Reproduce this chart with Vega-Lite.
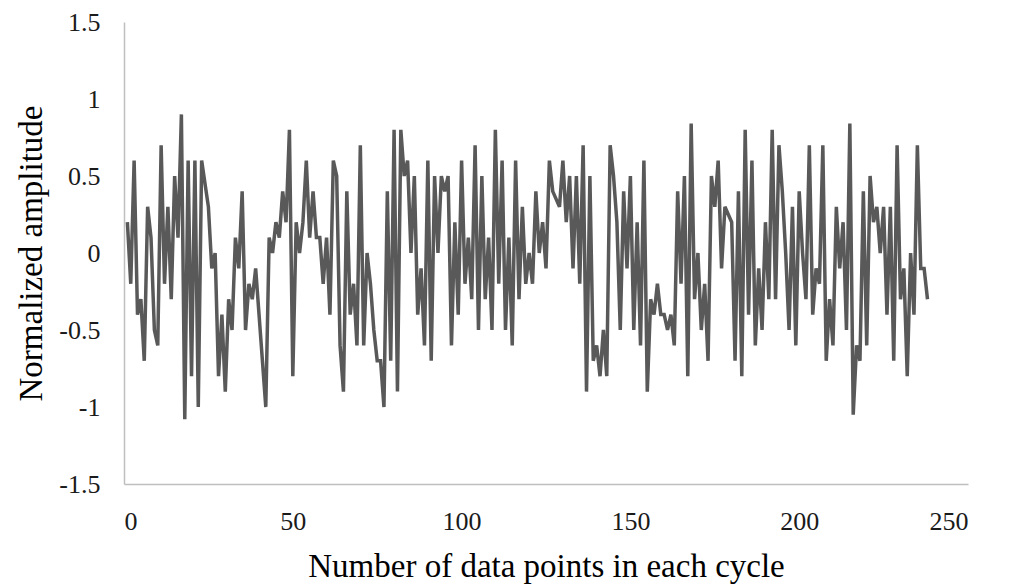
{
  "$schema": "https://vega.github.io/schema/vega-lite/v6.json",
  "width": 844,
  "height": 462,
  "padding": {"left": 124, "top": 22, "right": 41, "bottom": 104},
  "autosize": {"type": "none"},
  "background": "white",
  "config": {"view": {"stroke": null}},
  "data": {"values": [
{"x":1,"y":0.2},{"x":2,"y":-0.2},{"x":3,"y":0.6},{"x":4,"y":-0.4},{"x":5,"y":-0.3},{"x":6,"y":-0.7},{"x":7,"y":0.3},{"x":8,"y":0.1},{"x":9,"y":-0.5},{"x":10,"y":-0.6},
{"x":11,"y":0.7},{"x":12,"y":-0.2},{"x":13,"y":0.3},{"x":14,"y":-0.3},{"x":15,"y":0.5},{"x":16,"y":0.1},{"x":17,"y":0.9},{"x":18,"y":-1.08},{"x":19,"y":0.6},{"x":20,"y":-0.8},
{"x":21,"y":0.6},{"x":22,"y":-1.0},{"x":23,"y":0.6},{"x":24,"y":0.45},{"x":25,"y":0.3},{"x":26,"y":-0.1},{"x":27,"y":0.0},{"x":28,"y":-0.8},{"x":29,"y":-0.4},{"x":30,"y":-0.9},
{"x":31,"y":-0.3},{"x":32,"y":-0.5},{"x":33,"y":0.1},{"x":34,"y":-0.1},{"x":35,"y":0.4},{"x":36,"y":-0.5},{"x":37,"y":-0.2},{"x":38,"y":-0.3},{"x":39,"y":-0.1},{"x":40,"y":-0.4},
{"x":41,"y":-0.7},{"x":42,"y":-1.0},{"x":43,"y":0.1},{"x":44,"y":0.0},{"x":45,"y":0.2},{"x":46,"y":0.1},{"x":47,"y":0.4},{"x":48,"y":0.2},{"x":49,"y":0.8},{"x":50,"y":-0.8},
{"x":51,"y":0.2},{"x":52,"y":0.0},{"x":53,"y":0.2},{"x":54,"y":0.6},{"x":55,"y":0.1},{"x":56,"y":0.4},{"x":57,"y":0.1},{"x":58,"y":0.1},{"x":59,"y":-0.2},{"x":60,"y":0.1},
{"x":61,"y":-0.4},{"x":62,"y":0.6},{"x":63,"y":0.5},{"x":64,"y":-0.6},{"x":65,"y":-0.9},{"x":66,"y":0.4},{"x":67,"y":-0.4},{"x":68,"y":-0.2},{"x":69,"y":-0.6},{"x":70,"y":0.7},
{"x":71,"y":-0.6},{"x":72,"y":0.0},{"x":73,"y":-0.2},{"x":74,"y":-0.5},{"x":75,"y":-0.7},{"x":76,"y":-0.7},{"x":77,"y":-1.0},{"x":78,"y":0.4},{"x":79,"y":-0.7},{"x":80,"y":0.8},
{"x":81,"y":-0.9},{"x":82,"y":0.8},{"x":83,"y":0.5},{"x":84,"y":0.6},{"x":85,"y":0.0},{"x":86,"y":0.5},{"x":87,"y":-0.4},{"x":88,"y":-0.1},{"x":89,"y":-0.6},{"x":90,"y":0.6},
{"x":91,"y":-0.7},{"x":92,"y":0.5},{"x":93,"y":0.0},{"x":94,"y":0.5},{"x":95,"y":0.4},{"x":96,"y":0.5},{"x":97,"y":-0.6},{"x":98,"y":0.2},{"x":99,"y":-0.4},{"x":100,"y":0.6},
{"x":101,"y":-0.2},{"x":102,"y":0.1},{"x":103,"y":-0.3},{"x":104,"y":0.7},{"x":105,"y":-0.5},{"x":106,"y":0.5},{"x":107,"y":-0.3},{"x":108,"y":0.1},{"x":109,"y":-0.5},{"x":110,"y":0.8},
{"x":111,"y":-0.2},{"x":112,"y":0.6},{"x":113,"y":-0.5},{"x":114,"y":0.1},{"x":115,"y":-0.6},{"x":116,"y":0.6},{"x":117,"y":-0.3},{"x":118,"y":0.3},{"x":119,"y":-0.2},{"x":120,"y":0.0},
{"x":121,"y":-0.2},{"x":122,"y":0.4},{"x":123,"y":0.0},{"x":124,"y":0.2},{"x":125,"y":-0.1},{"x":126,"y":0.6},{"x":127,"y":0.4},{"x":128,"y":0.35},{"x":129,"y":0.3},{"x":130,"y":0.6},
{"x":131,"y":0.2},{"x":132,"y":0.5},{"x":133,"y":-0.1},{"x":134,"y":0.5},{"x":135,"y":-0.2},{"x":136,"y":0.7},{"x":137,"y":-0.9},{"x":138,"y":0.5},{"x":139,"y":-0.7},{"x":140,"y":-0.6},
{"x":141,"y":-0.8},{"x":142,"y":-0.5},{"x":143,"y":-0.8},{"x":144,"y":0.7},{"x":145,"y":0.5},{"x":146,"y":0.2},{"x":147,"y":-0.5},{"x":148,"y":0.4},{"x":149,"y":-0.1},{"x":150,"y":0.5},
{"x":151,"y":-0.5},{"x":152,"y":0.2},{"x":153,"y":-0.6},{"x":154,"y":0.6},{"x":155,"y":-0.9},{"x":156,"y":-0.3},{"x":157,"y":-0.4},{"x":158,"y":-0.2},{"x":159,"y":-0.4},{"x":160,"y":-0.4},
{"x":161,"y":-0.5},{"x":162,"y":-0.4},{"x":163,"y":-0.6},{"x":164,"y":0.4},{"x":165,"y":-0.2},{"x":166,"y":0.5},{"x":167,"y":-0.8},{"x":168,"y":0.84},{"x":169,"y":-0.3},{"x":170,"y":0.0},
{"x":171,"y":-0.5},{"x":172,"y":-0.2},{"x":173,"y":-0.7},{"x":174,"y":0.5},{"x":175,"y":0.3},{"x":176,"y":0.6},{"x":177,"y":-0.1},{"x":178,"y":0.3},{"x":179,"y":0.25},{"x":180,"y":0.2},
{"x":181,"y":-0.7},{"x":182,"y":0.4},{"x":183,"y":-0.8},{"x":184,"y":0.8},{"x":185,"y":-0.4},{"x":186,"y":0.6},{"x":187,"y":-0.6},{"x":188,"y":-0.1},{"x":189,"y":-0.5},{"x":190,"y":0.2},
{"x":191,"y":-0.3},{"x":192,"y":0.8},{"x":193,"y":-0.3},{"x":194,"y":0.7},{"x":195,"y":0.4},{"x":196,"y":0.0},{"x":197,"y":-0.5},{"x":198,"y":0.3},{"x":199,"y":-0.6},{"x":200,"y":0.4},
{"x":201,"y":0.0},{"x":202,"y":-0.3},{"x":203,"y":0.7},{"x":204,"y":-0.4},{"x":205,"y":-0.1},{"x":206,"y":-0.2},{"x":207,"y":0.7},{"x":208,"y":-0.7},{"x":209,"y":-0.3},{"x":210,"y":-0.6},
{"x":211,"y":0.3},{"x":212,"y":-0.1},{"x":213,"y":0.2},{"x":214,"y":-0.5},{"x":215,"y":0.84},{"x":216,"y":-1.05},{"x":217,"y":-0.6},{"x":218,"y":-0.7},{"x":219,"y":0.4},{"x":220,"y":-0.6},
{"x":221,"y":0.5},{"x":222,"y":0.2},{"x":223,"y":0.3},{"x":224,"y":0.0},{"x":225,"y":0.3},{"x":226,"y":-0.4},{"x":227,"y":0.3},{"x":228,"y":-0.7},{"x":229,"y":0.7},{"x":230,"y":-0.3},
{"x":231,"y":-0.1},{"x":232,"y":-0.8},{"x":233,"y":0.0},{"x":234,"y":-0.4},{"x":235,"y":0.7},{"x":236,"y":-0.1},{"x":237,"y":-0.1},{"x":238,"y":-0.3}
  ]},
  "mark": {"type": "line", "color": "#595959", "strokeWidth": 3.5, "strokeJoin": "miter", "strokeMiterLimit": 2},
  "encoding": {
    "x": {"field": "x", "type": "quantitative",
      "scale": {"domain": [0, 250], "nice": false, "zero": false},
      "axis": {"values": [0, 50, 100, 150, 200, 250], "title": "Number of data points in each cycle",
        "labelExpr": "'' + datum.value",
        "grid": false, "ticks": false, "domainColor": "#bfbfbf", "domainWidth": 1.5,
        "labelFont": "Liberation Serif", "labelFontSize": 26, "labelColor": "#1a1a1a", "labelPadding": 24,
        "titleFont": "Liberation Serif", "titleFontSize": 33, "titleFontWeight": "normal", "titleColor": "#000000", "titlePadding": 16}},
    "y": {"field": "y", "type": "quantitative",
      "scale": {"domain": [-1.5, 1.5], "nice": false, "zero": false},
      "axis": {"values": [-1.5, -1, -0.5, 0, 0.5, 1, 1.5], "title": "Normalized amplitude",
        "labelExpr": "'' + datum.value",
        "grid": false, "ticks": false, "domainColor": "#bfbfbf", "domainWidth": 1.5,
        "labelFont": "Liberation Serif", "labelFontSize": 26, "labelColor": "#1a1a1a", "labelPadding": 24,
        "titleFont": "Liberation Serif", "titleFontSize": 33, "titleFontWeight": "normal", "titleColor": "#000000", "titlePadding": 10}}
  }
}
